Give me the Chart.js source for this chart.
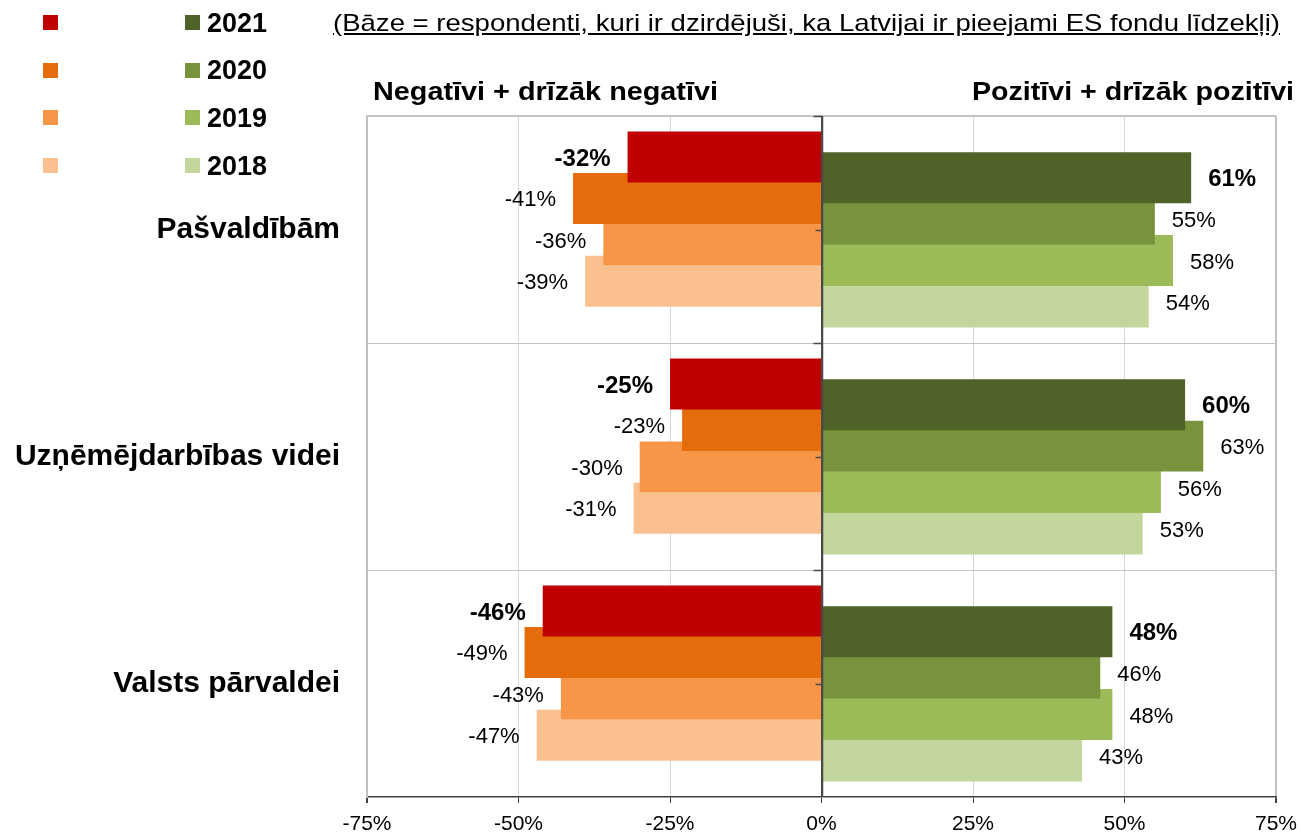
<!DOCTYPE html>
<html><head><meta charset="utf-8">
<script src="https://cdn.jsdelivr.net/npm/chart.js@4/dist/chart.umd.min.js"></script>
<style>
html,body{margin:0;padding:0;background:#fff;overflow:hidden;}
#wrap{position:relative;width:1301px;height:833px;font-family:"Liberation Sans",Arial,sans-serif;color:#000;}
canvas{position:absolute;left:0;top:0;}
.t{position:absolute;white-space:nowrap;line-height:1;transform-origin:0 0;}
.sq{position:absolute;width:15px;height:15px;}
</style></head>
<body><div id="wrap"><canvas id="c" width="1301" height="833"></canvas></div>
<script>
// ---- data ----
const categories = ['Pašvaldībām', 'Uzņēmējdarbības videi', 'Valsts pārvaldei'];
const years = ['2021', '2020', '2019', '2018'];
const neg2021 = [-32, -25, -46];
const neg2020 = [-41, -23, -49];
const neg2019 = [-36, -30, -43];
const neg2018 = [-39, -31, -47];
const pos2021 = [61, 60, 48];
const pos2020 = [55, 63, 46];
const pos2019 = [58, 56, 48];
const pos2018 = [54, 53, 43];
const xTickValues = [-75, -50, -25, 0, 25, 50, 75];
const subtitleText = '(Bāze = respondenti, kuri ir dzirdējuši, ka Latvijai ir pieejami ES fondu līdzekļi)';
const negHeader = 'Negatīvi + drīzāk negatīvi';
const posHeader = 'Pozitīvi + drīzāk pozitīvi';

// ---- styles ----
const negSeries = [neg2021, neg2020, neg2019, neg2018];
const posSeries = [pos2021, pos2020, pos2019, pos2018];
const negColors = ['#C00000', '#E46C0A', '#F79646', '#FAC090'];
const posColors = ['#4F6228', '#77933C', '#9BBB59', '#C3D69B'];
const FONT = '"Liberation Sans", Arial, sans-serif';

const wrap = document.getElementById('wrap');
function addText(txt, left, capCenter, size, bold, fitWidth, underline) {
  const d = document.createElement('div');
  d.className = 't';
  d.textContent = txt;
  d.style.fontSize = size + 'px';
  d.style.fontWeight = bold ? 'bold' : 'normal';
  if (underline) d.style.textDecoration = 'underline';
  d.style.left = left + 'px';
  d.style.top = (capCenter - 0.49 * size) + 'px';
  wrap.appendChild(d);
  if (fitWidth) {
    const w = d.getBoundingClientRect().width;
    d.style.transform = 'scaleX(' + (fitWidth / w) + ')';
  }
  return d;
}
// legend
years.forEach((y, i) => {
  const top = 15 + i * 47.7;
  const a = document.createElement('div'); a.className = 'sq';
  a.style.left = '43px'; a.style.top = top + 'px'; a.style.background = negColors[i]; wrap.appendChild(a);
  const b = document.createElement('div'); b.className = 'sq';
  b.style.left = '185px'; b.style.top = top + 'px'; b.style.background = posColors[i]; wrap.appendChild(b);
  addText(y, 207, top + 7.5, 28, true, 60);
});
addText(subtitleText, 333, 22.5, 24, false, 947, true);
addText(negHeader, 373, 91.5, 25, true, 345);
addText(posHeader, 972, 91.5, 25, true, 322);

// ---- chart ----
const datasets = [];
years.forEach((y, i) => {
  datasets.push({ label: 'neg ' + y, data: negSeries[i], backgroundColor: negColors[i], bold: i === 0 });
  datasets.push({ label: y, data: posSeries[i], backgroundColor: posColors[i], bold: i === 0 });
});

const labelPlugin = {
  id: 'valueLabels',
  afterDatasetsDraw(chart) {
    const ctx = chart.ctx;
    const xs = chart.scales.x, ys = chart.scales.y;
    // zero axis line with ticks
    const x0 = Math.round(xs.getPixelForValue(0)) + 0.5;
    ctx.save();
    ctx.strokeStyle = '#4a4a4a';
    ctx.lineWidth = 1.5;
    ctx.beginPath();
    ctx.moveTo(x0, chart.chartArea.top);
    ctx.lineTo(x0, chart.chartArea.bottom);
    categories.forEach((c, i) => {
      const yb = Math.round(ys.getPixelForValue(i - 0.5)) + 0.5;
      const yc = Math.round(ys.getPixelForValue(i)) + 0.5;
      ctx.moveTo(x0 - 9, yb); ctx.lineTo(x0, yb);
      ctx.moveTo(x0 - 7, yc); ctx.lineTo(x0, yc);
    });
    ctx.stroke();
    ctx.restore();
    // value labels
    chart.data.datasets.forEach((ds, di) => {
      const meta = chart.getDatasetMeta(di);
      meta.data.forEach((bar, i) => {
        const v = ds.data[i];
        ctx.save();
        ctx.font = (ds.bold ? 'bold 24px ' : '22px ') + FONT;
        ctx.fillStyle = '#000';
        ctx.textBaseline = 'middle';
        if (v < 0) { ctx.textAlign = 'right'; ctx.fillText(v + '%', bar.x - 17, bar.y + 2); }
        else { ctx.textAlign = 'left'; ctx.fillText(v + '%', bar.x + 17, bar.y + 2); }
        ctx.restore();
      });
    });
  }
};

new Chart(document.getElementById('c'), {
  type: 'bar',
  data: { labels: categories, datasets },
  options: {
    responsive: false, maintainAspectRatio: false, animation: false, devicePixelRatio: 1,
    indexAxis: 'y',
    layout: { padding: { top: 116, right: 25, left: 0, bottom: 0 } },
    datasets: { bar: { categoryPercentage: 0.731, barPercentage: 2.458, borderWidth: 0 } },
    plugins: { legend: { display: false }, tooltip: { enabled: false }, title: { display: false } },
    scales: {
      x: {
        type: 'linear', min: -75, max: 75,
        afterBuildTicks: s => { s.ticks = xTickValues.map(v => ({ value: v })); },
        ticks: { callback: v => v + '%', font: { family: FONT, size: 21 }, color: '#000', padding: 9, maxRotation: 0 },
        grid: {
          color: c => (c.tick && c.tick.value === 0) ? '#4a4a4a' : ((c.tick && Math.abs(c.tick.value) === 75) ? '#c0c0c0' : '#d6d6d6'),
          lineWidth: c => (c.tick && Math.abs(c.tick.value) === 75) ? 2 : 1,
          tickColor: '#404040', tickLength: 6, drawTicks: true
        },
        border: { display: true, color: '#404040', width: 1.5 },
        afterFit: s => { s.height = 36; s.paddingLeft = 0; s.paddingRight = 0; }
      },
      y: {
        type: 'category', offset: true,
        ticks: { font: { family: FONT, size: 30, weight: 'bold' }, color: '#000', padding: 27 },
        grid: {
          offset: true, drawTicks: false,
          color: c => (c.index === undefined) ? 'rgba(0,0,0,0)' : '#c4c4c4',
          lineWidth: c => (c.index === 0) ? 2 : 1
        },
        border: { display: true, color: '#c0c0c0', width: 2 },
        afterFit: s => { s.width = 367; s.paddingTop = 0; s.paddingBottom = 0; }
      }
    }
  },
  plugins: [labelPlugin]
});
</script>
</body></html>
